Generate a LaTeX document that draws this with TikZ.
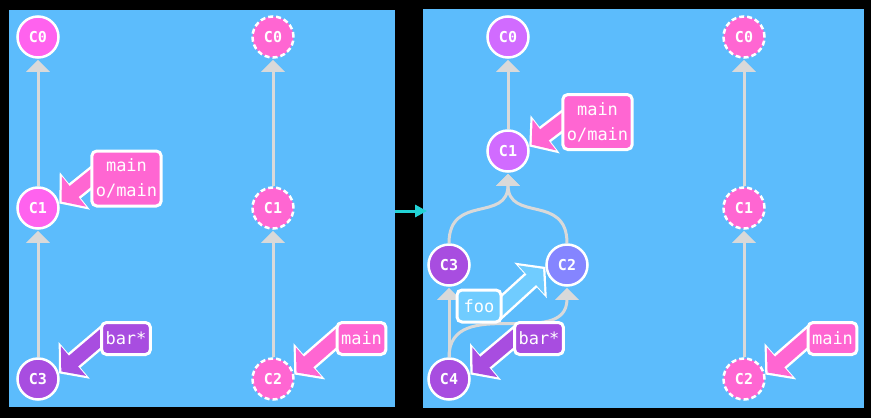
\documentclass[tikz,border=0pt]{standalone}
\usepackage{fontspec}
\setmonofont{DejaVu Sans Mono}
\usetikzlibrary{arrows.meta, calc}

\definecolor{panelblue}{HTML}{5CBCFC}
\definecolor{linkgray}{HTML}{D9D9D9}
\definecolor{flowcyan}{HTML}{22D3D6}
\definecolor{brightpink}{HTML}{FF62EE}
\definecolor{refpink}{HTML}{FF66D2}
\definecolor{orchid}{HTML}{D16BFF}
\definecolor{grape}{HTML}{A84DE0}
\definecolor{periwinkle}{HTML}{8585FF}
\definecolor{skyref}{HTML}{70CCFF}

\pgfdeclarelayer{back}
\pgfdeclarelayer{mid}
\pgfsetlayers{back,mid,main}

\tikzset{
    panel/.style={fill=panelblue, inner sep=0pt, outer sep=0pt},
    commit/.style={circle, draw=white, line width=2.5pt, minimum size=41pt, inner sep=0pt,
        text=white, font=\ttfamily\bfseries\fontsize{15}{15}\selectfont},
    ghost/.style={commit, dash pattern=on 5pt off 3pt},
    reflabel/.style={draw=white, line width=3pt, rounded corners=5pt, text=white, align=center,
        inner xsep=4pt, inner ysep=0pt, minimum height=32pt,
        font=\ttfamily\fontsize{17}{25}\selectfont},
    parent/.style={color=linkgray, line width=3pt, -{Triangle[length=12pt, width=23pt]}, shorten >=1pt},
    refarrow/.style={line width=14pt, -{Triangle[length=16pt, width=38pt]}, shorten >=3pt, shorten <=-10pt,
        preaction={draw=white, line width=19pt, -{Triangle[length=20pt, width=47pt]},
            shorten >=0pt, shorten <=-12pt}},
}

\begin{document}
\begin{tikzpicture}[x=1pt, y=1pt]
    \useasboundingbox (0,0) rectangle (871,-418);
    \begin{pgfonlayer}{back}
        \fill[black] (0,0) rectangle (871,-418);
        \node[panel, minimum width=386pt, minimum height=397pt](P_A) at (202,-208.5){};
        \node[panel, minimum width=441pt, minimum height=399pt](P_B) at (643.5,-208.5){};
    \end{pgfonlayer}

    \draw[flowcyan, line width=3pt, -{Triangle[length=12pt, width=12pt]}]
        ([yshift=-2.5pt]P_A.east) -- ([xshift=4pt, yshift=-2.5pt]P_B.west);

    % left panel
    \node[commit, fill=brightpink](A_C0) at (38,-37){C0};
    \node[commit, fill=brightpink](A_C1) at (38,-208){C1};
    \node[commit, fill=grape](A_C3) at (38,-379){C3};

    \draw[parent] (A_C1) -- (A_C0);
    \draw[parent] (A_C3) -- (A_C1);

    \node[ghost, fill=refpink](B_C0) at (273,-37){C0};
    \node[ghost, fill=refpink](B_C1) at (273,-208){C1};
    \node[ghost, fill=refpink](B_C2) at (273,-379){C2};

    \draw[parent] (B_C1) -- (B_C0);
    \draw[parent] (B_C2) -- (B_C1);

    \node[reflabel, fill=refpink, minimum height=55pt](A_ref) at (126.5,-178.5){main\\o/main};
    \node[reflabel, fill=grape](A_bar) at (126,-338.5){bar*};
    \node[reflabel, fill=refpink](B_ref) at (361.5,-338.5){main};

    % right panel
    \node[commit, fill=orchid](C_C0) at (508,-37){C0};
    \node[commit, fill=orchid](C_C1) at (508,-151){C1};
    \node[commit, fill=grape](C_C3) at (449,-265){C3};
    \node[commit, fill=periwinkle](C_C2) at (567,-265){C2};
    \node[commit, fill=grape](C_C4) at (449,-379){C4};

    \draw[parent] (C_C1) -- (C_C0);
    \draw[parent] (C_C3) to[out=90, in=-90, looseness=1.4] (C_C1);
    \draw[parent] (C_C2) to[out=90, in=-90, looseness=1.4] (C_C1);
    \draw[parent] (C_C4) -- (C_C3);
    \draw[parent] (C_C4) to[out=90, in=-90, looseness=1.2] (C_C2);

    \node[ghost, fill=refpink](D_C0) at (744,-37){C0};
    \node[ghost, fill=refpink](D_C1) at (744,-208){C1};
    \node[ghost, fill=refpink](D_C2) at (744,-379){C2};

    \draw[parent] (D_C1) -- (D_C0);
    \draw[parent] (D_C2) -- (D_C1);

    \node[reflabel, fill=refpink, minimum height=55pt](C_ref) at (597.5,-122){main\\o/main};
    \node[reflabel, fill=skyref, minimum width=44pt](C_foo) at (479,-306){foo};
    \node[reflabel, fill=grape](C_bar) at (539,-338.5){bar*};
    \node[reflabel, fill=refpink](D_ref) at (832.5,-338.5){main};

    % branch pointers
    \begin{pgfonlayer}{mid}
        \draw[refarrow, draw=refpink] (A_ref.west) -- (A_C1.12);
        \draw[refarrow, draw=grape] (A_bar.west) -- (A_C3.15);
        \draw[refarrow, draw=refpink] (B_ref.west) -- (B_C2.12);
        \draw[refarrow, draw=refpink] (C_ref.west) -- (C_C1.12);
        \draw[refarrow, draw=skyref] (C_foo.east) -- (C_C2.185);
        \draw[refarrow, draw=grape] (C_bar.west) -- (C_C4.12);
        \draw[refarrow, draw=refpink] (D_ref.west) -- (D_C2.12);
    \end{pgfonlayer}
\end{tikzpicture}
\end{document}
